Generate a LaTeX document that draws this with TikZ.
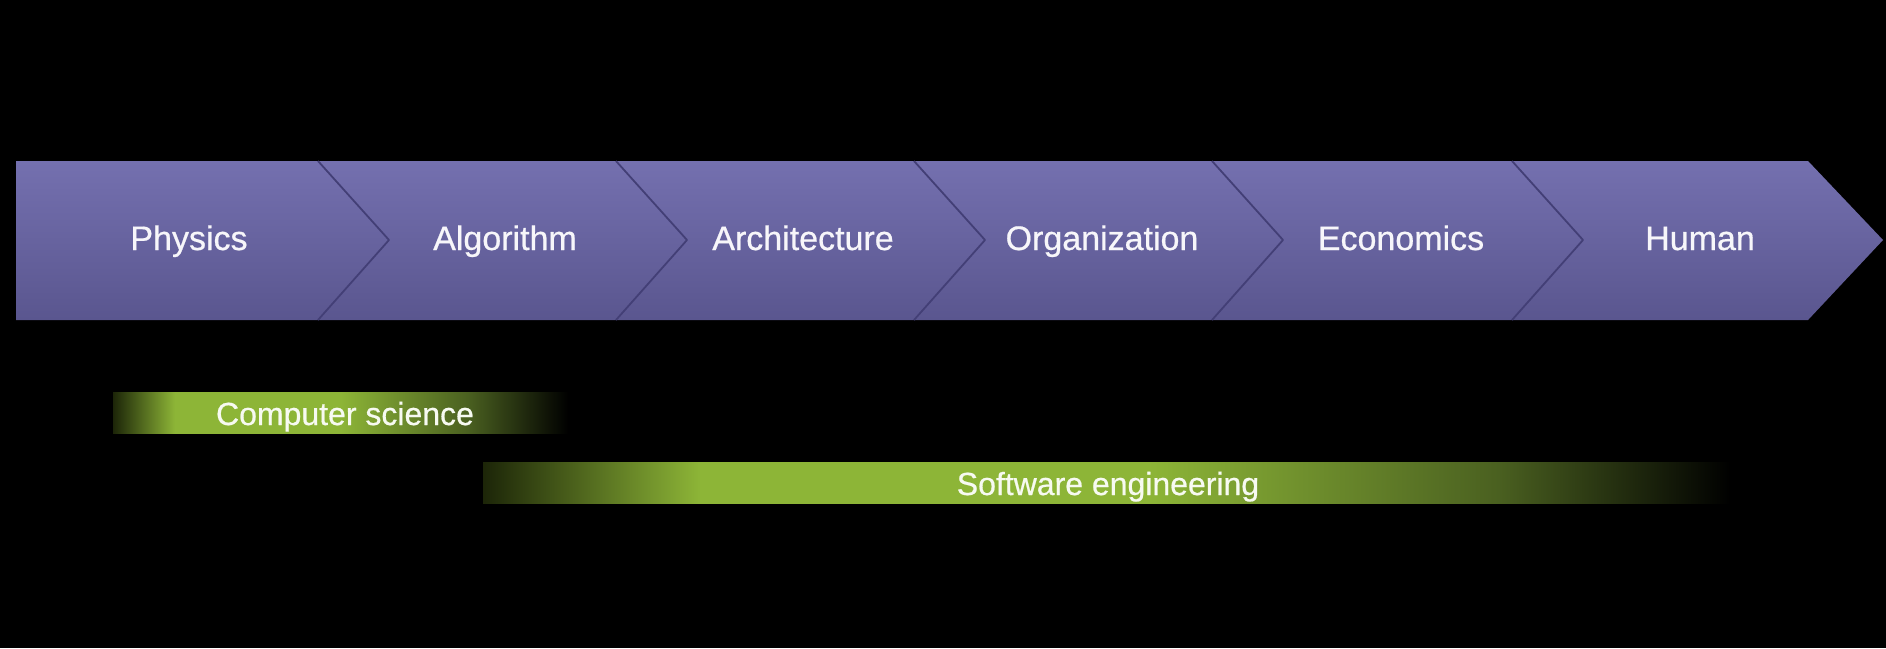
\documentclass[tikz,border=0pt]{standalone}
\usepackage{fontspec}
\setmainfont{Liberation Sans}
\newfontfamily\labelfont[FakeBold=0.6]{Liberation Sans}
\definecolor{chevtop}{HTML}{7470AF}
\definecolor{chevbot}{HTML}{5A568F}
\definecolor{chevline}{HTML}{433F76}
\definecolor{barlime}{HTML}{8DB537}
\definecolor{barolive}{HTML}{4A6020}
\definecolor{bardark}{HTML}{1C2508}
% horizontal fades for the two bands; 25bp..75bp spans the filled path
\pgfdeclarehorizontalshading{csfade}{100bp}{color(0bp)=(bardark); color(25bp)=(bardark);
  color(31.8bp)=(barlime); color(50bp)=(barlime); color(64bp)=(barolive);
  color(75bp)=(black); color(100bp)=(black)}
\pgfdeclarehorizontalshading{sefade}{100bp}{color(0bp)=(bardark); color(25bp)=(bardark);
  color(33.7bp)=(barlime); color(51.7bp)=(barlime); color(65.7bp)=(barolive);
  color(75bp)=(black); color(100bp)=(black)}
\tikzset{
  chevron/.style={top color=chevtop, bottom color=chevbot, draw=none},
  sepline/.style={draw=chevline, line width=1.8pt, line join=round},
  steplabel/.style={text=white!94!chevtop, anchor=base, inner sep=0pt,
    font=\labelfont\fontsize{34}{40}\selectfont},
  barlabel/.style={text=white!93!barlime, anchor=base, inner sep=0pt,
    font=\labelfont\fontsize{32}{38}\selectfont},
}
\begin{document}
\begin{tikzpicture}[x=1pt,y=-1pt]
\useasboundingbox (0,0) rectangle (1886,648);
\fill[black] (0,0) rectangle (1886,648);

% chevron band: flat start, arrow tip at the end, five inner joints
\path[chevron] (16,161) -- (1808,161) -- (1883,240) -- (1808,320) -- (16,320) -- cycle;
\foreach \x in {318,616,914,1212,1512}{
  \draw[sepline] (\x,161) -- (\x+71,240) -- (\x,320);
}

\node[steplabel] (physics) at (189,250) {Physics};
\node[steplabel] (algorithm) at (505,250) {Algorithm};
\node[steplabel] (architecture) at (803,250) {Architecture};
\node[steplabel] (organization) at (1102,250) {Organization};
\node[steplabel] (economics) at (1401,250) {Economics};
\node[steplabel] (human) at (1700,250) {Human};

% computer science band
\shade[shading=csfade] (113,392) rectangle (568,433);
\node[barlabel] (cs) at (345,425) {Computer science};

% software engineering band
\shade[shading=sefade] (483,462) rectangle (1730,503);
\node[barlabel] (se) at (1108,495) {Software engineering};
\end{tikzpicture}
\end{document}
